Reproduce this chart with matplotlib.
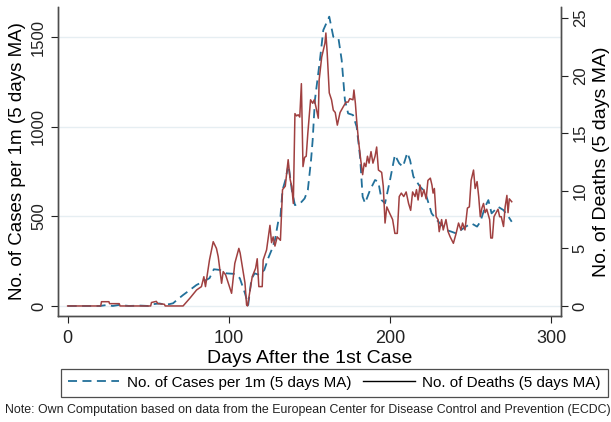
import matplotlib
matplotlib.use("Agg")
import matplotlib.pyplot as plt
from matplotlib.lines import Line2D

plt.rcParams["font.family"] = ["Liberation Sans", "DejaVu Sans"]

# cases per 1m, 5-day moving average
case_days = [0, 20, 24, 28, 32, 38, 45, 50, 53, 57, 60, 63, 65.4, 68, 71.6, 75.8, 79.9, 84, 88,
             90.7, 94.4, 98.5, 103.7, 106.8, 110, 112, 114, 116, 119, 122, 124.4, 126.5, 128.6,
             130.6, 132, 133.3, 135, 137, 139, 141, 144, 147, 149, 151, 152, 153.4, 156.5, 158.6,
             162.3, 164.8, 168, 170, 172, 174, 177, 179.3, 181.4, 183, 184.5, 187.6, 190.7, 192.7,
             194.8, 196.9, 200, 202, 203, 205.7, 208, 210.7, 212.4, 214.5, 218.6, 221.7, 225.8,
             229, 232, 235, 238, 241, 244, 247, 250.5, 254, 256, 259, 261, 263, 265, 267, 270.4,
             273.5, 275.5]
cases = [0, 0, 5, 0, 6, 0, 2, 0, 10, 14, 8, 10, 15, 35, 61, 89, 117, 136, 155,
         205, 201, 182, 179, 155, 71, 5, 150, 182, 173, 201, 266, 312, 368,
         470, 498, 647, 700, 790, 650, 563, 570, 600, 647, 815, 926, 1150, 1373, 1540,
         1615, 1503, 1494, 1373, 1150, 1075, 1066, 1000, 833, 610, 574, 647, 703, 694,
         591, 573, 703, 796, 843, 796, 777, 855, 815, 722, 666, 638, 517,
         480, 452, 424, 415, 405, 424, 443, 461, 443, 470, 554, 591, 517, 535, 554, 535,
         498, 470]

# deaths, 5-day moving average
death_days = [0, 20.5, 21, 25.6, 26, 32, 32.5, 51.5, 52, 55, 56, 60, 60.5, 71.6, 75.8, 80, 83,
              84.5, 85.5, 88, 90.3, 92.3, 93.4, 95.5, 96.5, 98, 101.7, 103.7, 106.2, 107, 110,
              111, 111.6, 114.5, 116.6, 117.6, 118.6, 120.7, 121.3, 123.4, 125.5, 126.5, 127.5,
              128.6, 130, 132, 133.3, 135, 136.8, 138, 139, 140, 141, 142, 143, 144, 145, 146,
              147, 148, 149, 150.7, 152, 153, 154, 155.5, 156, 157.6, 158.6, 159.6, 160.2, 161,
              162.3, 163.7, 164.8, 166, 167.3, 169, 171, 172.7, 174, 175, 177, 177.6, 178.5,
              179.3, 180.4, 181.8, 183, 184, 185, 186, 187, 188.2, 189.4, 190.7, 191.7, 192.8,
              194.8, 195.8, 196.9, 198, 199.6, 201.6, 203, 204.5, 205.7, 207, 208.5, 210, 211.5,
              212.8, 214, 215.5, 216.4, 217.4, 218.6, 219.7, 221, 222.4, 223.5, 225, 226, 226.7,
              227.5, 228.6, 229.8, 230.5, 232, 233, 234.7, 236, 237.3, 239.3, 241, 242.5, 244,
              245, 246.5, 248, 249.2, 250.3, 251.8, 252.8, 254, 255, 256, 257, 258, 259, 260,
              261.8, 262.5, 263.5, 264.5, 265.8, 267, 268, 269, 270.4, 271.4, 272.5, 273.2,
              274, 275.5]
deaths = [0, 0, 0.37, 0.37, 0.2, 0.2, 0, 0, 0.3, 0.4, 0.2, 0.15, 0, 0, 0.67, 1.39, 1.68,
          2.54, 1.68, 4.0, 5.58, 5.0, 4.28, 1.97, 2.98, 2.7, 1.1, 3.7, 5.0, 4.6, 2.0,
          0.09, 0, 2.54, 3.27, 4.1, 1.68, 1.68, 4.0, 4.86, 7.0, 5.5, 6.0,
          5.2, 6.0, 5.7, 10.1, 10.4, 12.7, 11.0, 10.4, 8.9, 16.7, 16.5, 16.6, 16.4, 19.3, 12.1,
          12.9, 13.0, 15.0, 17.9, 17.6, 17.9, 17.3, 16.3, 19.6, 21.6, 22.2, 22.8, 23.7, 22.0,
          18.5, 17.9, 17.0, 16.8, 15.7, 16.8, 17.3, 17.7, 17.7, 18.0, 17.9, 18.75, 17.6,
          16.1, 14.4, 12.7, 11.4, 12.4, 12.1, 13.0, 12.4, 13.4, 12.4, 13.0, 13.8, 11.8,
          11.6, 10.4, 7.2, 8.6, 8.1, 7.5, 6.3, 6.3, 9.5, 9.8, 9.5, 9.9, 8.9,
          8.3, 9.9, 9.5, 10.1, 9.2, 10.5, 9.5, 10.1, 9.3, 10.9, 11.1, 10.5, 9.8,
          10.2, 7.75, 7.5, 6.45, 7.5, 6.6, 7.5, 6.45, 6.0, 5.44, 6.3, 7.2, 6.6,
          7.2, 6.6, 8.5, 8.6, 10.9, 11.8, 10.2, 10.8, 9.5, 7.75, 8.5, 8.9, 8.1, 8.4,
          7.5, 5.9, 5.9, 7.75, 8.1, 8.4, 7.75, 7.75, 6.9, 8.6, 9.6, 8.1,
          9.3, 9.05]

case_ticks = [0, 500, 1000, 1500]
death_ticks = [0, 5, 10, 15, 20, 25]
day_ticks = [0, 100, 200, 300]

blue = "#22709a"
red = "#a04040"
spine_col = "#4d4d4d"

fig = plt.figure(figsize=(6.11, 4.22), dpi=100)
ax = fig.add_axes([0.0949, 0.2512, 0.8231, 0.7322])
ax2 = ax.twinx()

ax.plot(case_days, cases, color=blue, lw=1.3, dashes=(5, 3))
ax2.plot(death_days, deaths, color=red, lw=1.1)

ax.set_xlim(-6, 306)
ax.set_ylim(-56, 1669)
ax2.set_ylim(-56 / 64.3, 1669 / 64.3)

ax.set_xticks(day_ticks)
ax.set_yticks(case_ticks)
ax2.set_yticks(death_ticks)
ax.grid(axis="y", color="#e6eef2", lw=1)
ax.set_axisbelow(True)

for a in (ax, ax2):
    a.spines["top"].set_visible(False)
    for s in ("left", "right", "bottom"):
        a.spines[s].set_color(spine_col)
        a.spines[s].set_linewidth(1.0)
    a.tick_params(colors="#222222", labelsize=12, length=5, width=0.8)

for lab in ax.get_yticklabels():
    lab.set_rotation(90)
    lab.set_va("center")
for lab in ax2.get_yticklabels():
    lab.set_rotation(90)
    lab.set_va("center")
ax.tick_params(axis="x", labelsize=13, pad=5)

ax.set_xlabel("Days After the 1st Case", fontsize=14, labelpad=2)
ax.set_ylabel("No. of Cases per 1m (5 days MA)", fontsize=13.5, labelpad=4)
ax2.set_ylabel("No. of Deaths (5 days MA)", fontsize=14, labelpad=4)

handles = [Line2D([], [], color=blue, lw=1.3, dashes=(5, 3)),
           Line2D([], [], color="black", lw=1.0)]
leg = fig.legend(handles, ["No. of Cases per 1m (5 days MA)", "No. of Deaths (5 days MA)"],
                 loc="center", bbox_to_anchor=(0.547, 0.093), ncol=2, fontsize=10.9,
                 frameon=True, fancybox=False, edgecolor="#222222", handlelength=3.4,
                 columnspacing=0.8, handletextpad=0.5, borderpad=0.45, borderaxespad=0)
leg.get_frame().set_linewidth(0.9)

fig.text(5 / 611, 0.028, "Note: Own Computation based on data from the European Center for Disease "
         "Control and Prevention (ECDC)", ha="left", va="center", fontsize=8.9, color="#222222")

fig.savefig("out.png", dpi=100)
